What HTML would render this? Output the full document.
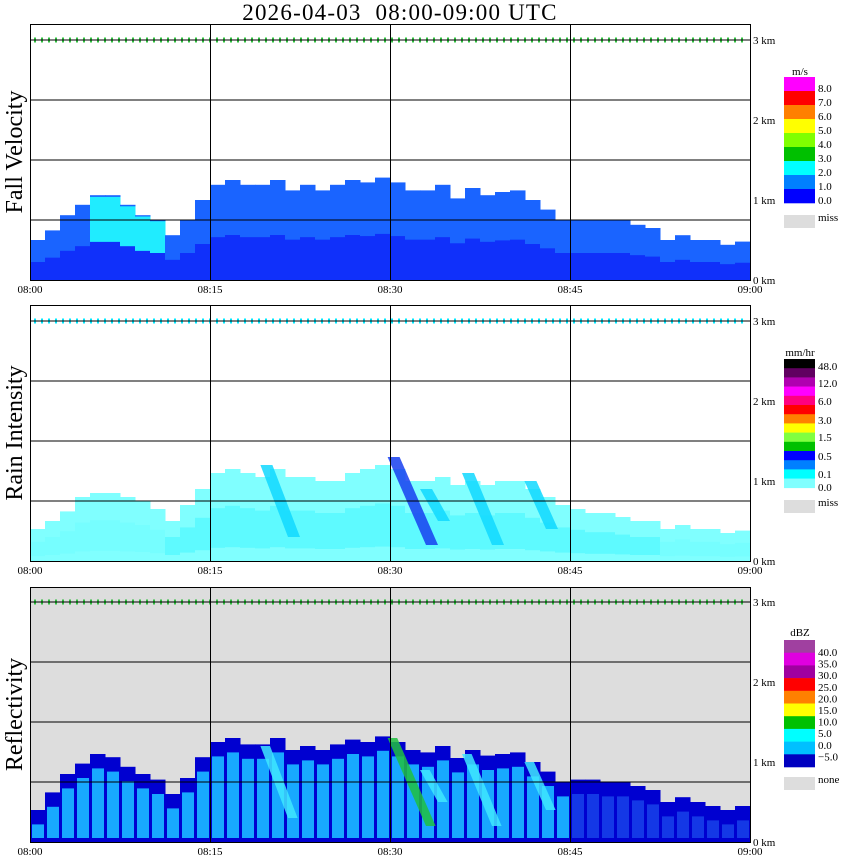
<!DOCTYPE html>
<html><head><meta charset="utf-8">
<style>
body{margin:0;background:#fff;width:850px;height:868px;overflow:hidden}
svg{display:block;font-family:"Liberation Serif",serif}
</style></head>
<body>
<svg id="chart" width="850" height="868" viewBox="0 0 850 868" xmlns="http://www.w3.org/2000/svg">
<text x="400" y="20" text-anchor="middle" font-size="23" letter-spacing="1.2" style="white-space:pre">2026-04-03  08:00-09:00 UTC</text>
</svg>
<script>
// ---- data ----
const timeTicks = ["08:00","08:15","08:30","08:45","09:00"];
const tickMinutes = [0,15,30,45,60];
const kmTicks = [0,1,2,3];
const colMinutes = 1.25;
// echo top height (km) per 1.25-minute column
const echoTops = [0.5,0.62,0.81,0.94,1.06,1.06,0.94,0.81,0.75,0.56,0.75,1.0,1.19,1.25,1.19,1.19,1.25,1.12,1.19,1.12,1.19,1.25,1.22,1.28,1.22,1.12,1.12,1.19,1.02,1.15,1.06,1.1,1.12,1.0,0.88,0.75,0.75,0.75,0.75,0.75,0.69,0.65,0.5,0.56,0.5,0.5,0.44,0.48];
// rain (light cyan) top per column
const rainTops = [0.4,0.5,0.62,0.8,0.85,0.85,0.8,0.75,0.65,0.5,0.7,0.9,1.1,1.15,1.1,1.05,1.15,1.05,1.05,1.0,1.0,1.1,1.15,1.2,1.15,1.0,1.0,1.05,0.95,1.0,0.95,1.0,1.0,0.9,0.8,0.7,0.65,0.6,0.6,0.55,0.5,0.5,0.4,0.45,0.4,0.4,0.35,0.38];
// reflectivity echo top per column
const dbzTops = [0.4,0.62,0.85,0.98,1.1,1.06,0.94,0.85,0.78,0.6,0.8,1.06,1.25,1.3,1.22,1.22,1.3,1.15,1.2,1.15,1.22,1.28,1.25,1.32,1.25,1.15,1.12,1.2,1.05,1.15,1.08,1.1,1.12,1.0,0.88,0.75,0.78,0.78,0.75,0.75,0.7,0.65,0.5,0.56,0.5,0.45,0.4,0.45];
// diagonal rain streaks: start minute, top km, end minute, bottom km, level
const streakStart = [19.2,29.8,32.5,36.0,41.2];
const streakTop = [1.2,1.3,0.9,1.1,1.0];
const streakEnd = [21.5,33.0,34.0,38.5,43.0];
const streakBottom = [0.3,0.2,0.5,0.2,0.4];
const streakLevel = [1,2,1,1,1];
// legends
const fvLabels = ["8.0","7.0","6.0","5.0","4.0","3.0","2.0","1.0","0.0"];
const riLabels = ["48.0","12.0","6.0","3.0","1.5","0.5","0.1","0.0"];
const dbzLabels = ["40.0","35.0","30.0","25.0","20.0","15.0","10.0","5.0","0.0","\u22125.0"];

const NS="http://www.w3.org/2000/svg";
const svg=document.getElementById('chart');
function mk(tag,attrs,parent){const e=document.createElementNS(NS,tag);for(const k in attrs)e.setAttribute(k,attrs[k]);(parent||svg).appendChild(e);return e;}
const X0=30,X1=750;
const xs=m=>X0+(m/60)*(X1-X0);
const panels=[{top:24,bottom:280,title:"Fall Velocity",bg:"#fff"},{top:305,bottom:561,title:"Rain Intensity",bg:"#fff"},{top:587,bottom:842,title:"Reflectivity",bg:"#ddd"}];

panels.forEach((p,pi)=>{
  const ys=km=>p.bottom-km*80;
  const g=mk('g',{});
  
  
  const bg=mk('rect',{x:X0,y:p.top,width:X1-X0,height:p.bottom-p.top,fill:p.bg},g);
  
  
  const cw=xs(colMinutes)-xs(0);
  const tops=[echoTops,rainTops,dbzTops][pi];
  tops.forEach((t,i)=>{
    const x=xs(i*colMinutes);
    if(pi===0){
      const r1=mk('rect',{x:x,y:ys(t),width:cw+0.5,height:ys(0)-ys(t),fill:"#1a64ff"},g);
      
      
      const r2=mk('rect',{x:x,y:ys(t*0.45),width:cw+0.5,height:ys(0)-ys(t*0.45),fill:"#1030fa"},g);
      
      
      if(i>=4&&i<=8){const c=mk('rect',{x:x,y:ys(t*0.98),width:cw+0.5,height:ys(t*0.45)-ys(t*0.98),fill:"#20ecff"},g);
        
        }
    } else if(pi===1){
      const r=mk('rect',{x:x,y:ys(t),width:cw+0.5,height:ys(0)-ys(t),fill:"#80ffff"},g);
      
      
      const r2=mk('rect',{x:x,y:ys(t*0.6),width:cw+0.5,height:ys(t*0.15)-ys(t*0.6),fill:"#50f8ff",opacity:(i>8&&i<42)?0.7:0.2},g);
      
      
    } else {
      const r=mk('rect',{x:x,y:ys(t),width:cw+0.5,height:ys(0)-ys(t),fill:"#0000d0"},g);
      
      
      const inner=t-0.18;
      if(inner>0){const r2=mk('rect',{x:x+2,y:ys(inner),width:cw-3,height:ys(0.05)-ys(inner),fill:(i>=36)?"#1438e6":"#18a8ff"},g);
        
        }
    }
  });
  if(pi>0){
    streakStart.forEach((s,i)=>{
      const w=pi===1?1.0:0.8;
      const col=pi===1?(streakLevel[i]===2?"#1840f0":"#10d8ff"):(streakLevel[i]===2?"#20c040":"#40e8ff");
      const pts=[[xs(s),ys(streakTop[i])],[xs(s+w),ys(streakTop[i])],[xs(streakEnd[i]+w),ys(streakBottom[i])],[xs(streakEnd[i]),ys(streakBottom[i])]].map(q=>q.join(',')).join(' ');
      const pg=mk('polygon',{points:pts,fill:col,opacity:0.85},g);
      
      
    });
  }
  // top 3km marks row
  const dots=mk('line',{x1:X0+4,x2:X1-4,y1:ys(3),y2:ys(3),stroke:pi===1?"#00e8ff":"#30c040","stroke-width":5,"stroke-dasharray":"2 5"},g);
  
  
  // grid
  [0.75,1.5,2.25,3].forEach(k=>{const l=mk('line',{x1:X0,x2:X1,y1:ys(k),y2:ys(k),stroke:"#000","stroke-width":1},g);
    
    });
  [15,30,45].forEach(m=>{const l=mk('line',{x1:xs(m)+0.5,x2:xs(m)+0.5,y1:p.top,y2:p.bottom,stroke:"#000","stroke-width":1},g);
    
    });
  const fr=mk('rect',{x:X0+0.5,y:p.top+0.5,width:X1-X0,height:p.bottom-p.top,fill:"none",stroke:"#000"},g);
  
  
  // km labels
  kmTicks.forEach(k=>{const t=mk('text',{x:753,y:ys(k)+4,"font-size":11},g);t.textContent=k+" km";
    
    });
  // time labels
  tickMinutes.forEach((m,i)=>{const t=mk('text',{x:xs(m),y:p.bottom+13,"font-size":11,"text-anchor":"middle"},g);t.textContent=timeTicks[i];
    
    });
  // panel title
  const cy=(p.top+p.bottom)/2;
  const tt=mk('text',{x:22,y:cy,"font-size":24,"text-anchor":"middle",transform:`rotate(-90 22 ${cy})`},g);tt.textContent=p.title;
  
  
});

function legend(unit,unitY,top,bh,colors,labels,labelOffset,missY,missText){
  const g=mk('g',{});
  
  
  const u=mk('text',{x:800,y:unitY,"font-size":11,"text-anchor":"middle"},g);u.textContent=unit;
  
  
  colors.forEach((c,i)=>{const r=mk('rect',{x:784,y:top+i*bh,width:31,height:bh+0.3,fill:c},g);
    
    });
  labels.forEach((l,i)=>{const y=labelOffset(i);const t=mk('text',{x:818,y:y,"font-size":11},g);t.textContent=l;
    
    });
  const m=mk('rect',{x:784,y:missY,width:31,height:13,fill:"#ddd"},g);
  
  
  const mt=mk('text',{x:818,y:missY+6,"font-size":11},g);mt.textContent=missText;
  
  
}
legend("m/s",75,77,14,["#ff00ff","#ff0000","#ff8000","#ffff00","#80ff00","#00c000","#00ffff","#0080ff","#0000ff"],fvLabels,i=>77+14*(i+1)-3+4,215,"miss");
legend("mm/hr",356,359,9.2,["#000000","#600060","#b000b0","#ff00ff","#ff0080","#ff0000","#ff8000","#ffff00","#80ff40","#00c000","#0000ff","#0080ff","#00ffff","#80ffff"],riLabels,i=>[370,387,405,424,441,460,478,491][i],500,"miss");
legend("dBZ",636,640,12.7,["#a040a0","#e000e0","#a000a0","#ff0000","#ff8000","#ffff00","#00c000","#00ffff","#00c0ff","#0000c0"],dbzLabels,i=>656+11.6*i,777,"none");
</script>
</body></html>
